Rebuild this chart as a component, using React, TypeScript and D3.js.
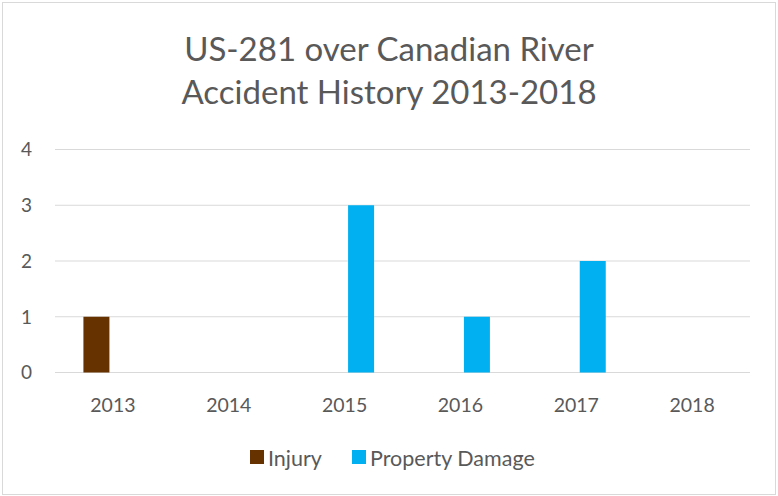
import React from 'react';
import * as d3 from 'd3';

const years = ['2013', '2014', '2015', '2016', '2017', '2018'];
const seriesNames = ['Injury', 'Property Damage'];
const injury = [1, 0, 0, 0, 0, 0];
const propertyDamage = [0, 0, 3, 1, 2, 0];
const yTicks = [0, 1, 2, 3, 4];
const seriesColors = ['#663300', '#00B0F0'];

const W = 778, H = 496;
const margin = { top: 149.5, right: 28, bottom: 123.5, left: 55 };
const FONT = 'Lato, "Open Sans", sans-serif';

export default function App() {
  const x = d3.scaleBand().domain(years).range([margin.left, W - margin.right]).padding(0);
  const y = d3.scaleLinear().domain([0, 4]).range([H - margin.bottom, margin.top]);
  const groupW = 59;
  const xs = d3.scaleBand().domain(seriesNames)
    .range([x.bandwidth() / 2 - groupW / 2, x.bandwidth() / 2 + groupW / 2])
    .paddingInner(0.212);

  const values = [injury, propertyDamage];

  return (
    <svg width={W} height={H} style={{ position: 'absolute', left: 0, top: 0, background: '#fff' }}>
      <rect x={2.5} y={2.5} width={W - 5} height={H - 4} fill="#fff" stroke="#d9d9d9" strokeWidth={1} />
      <text x={W / 2} y={61} textAnchor="middle" fontFamily={FONT} fontSize={33} fill="#595959">US-281 over Canadian River</text>
      <text x={W / 2} y={104} textAnchor="middle" fontFamily={FONT} fontSize={33} fill="#595959">Accident History 2013-2018</text>
      {yTicks.map(t => (
        <g key={t}>
          <line x1={margin.left} x2={W - margin.right} y1={y(t)} y2={y(t)} stroke="#d9d9d9" strokeWidth={1.2} />
          <text x={32} y={y(t)} dy="0.36em" textAnchor="end" fontFamily={FONT} fontSize={19} fill="#595959">{t}</text>
        </g>
      ))}
      {values.map((vals, si) => (
        <g key={si} fill={seriesColors[si]}>
          {vals.map((v, i) => v > 0 ? (
            <rect key={i} x={(x(years[i]) as number) + (xs(seriesNames[si]) as number)} y={y(v)}
              width={xs.bandwidth()} height={y(0) - y(v)} />
          ) : null)}
        </g>
      ))}
      {years.map(yr => (
        <text key={yr} x={(x(yr) as number) + x.bandwidth() / 2} y={405} dy="0.36em" textAnchor="middle"
          fontFamily={FONT} fontSize={19.5} fill="#595959">{yr}</text>
      ))}
      <g>
        <rect x={250} y={450} width={14} height={14} fill={seriesColors[0]} />
        <text x={268} y={466} fontFamily={FONT} fontSize={21.5} fill="#595959">{seriesNames[0]}</text>
        <rect x={352} y={450} width={14} height={14} fill={seriesColors[1]} />
        <text x={370} y={466} fontFamily={FONT} fontSize={21.5} fill="#595959">{seriesNames[1]}</text>
      </g>
    </svg>
  );
}
